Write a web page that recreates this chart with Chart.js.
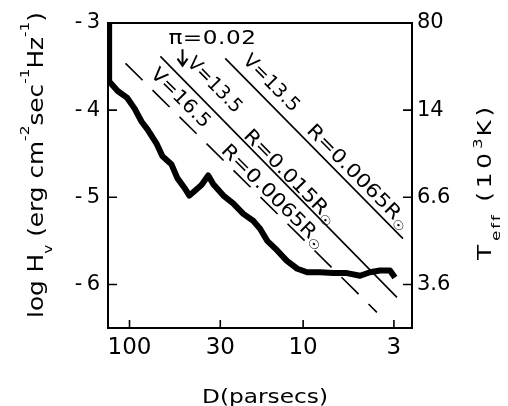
<!DOCTYPE html>
<html><head><meta charset="utf-8">
<script src="https://cdn.jsdelivr.net/npm/chart.js@4"></script>
<style>html,body{margin:0;padding:0;background:#fff}canvas{display:block}</style>
</head><body>
<canvas id="c" width="508" height="406"></canvas>
<script>
// ---- data ----
const distance = [131, 131, 127, 117, 103, 93.6, 85.3, 78.8, 70.0, 64.6, 57.4, 53.0, 48.3, 45.2, 42.3, 38.5, 35.2, 32.9, 28.8, 25.3, 22.1, 19.4, 17.7, 16.1, 14.1, 12.4, 10.8, 9.48, 7.98, 6.72, 5.59, 4.70, 4.12, 3.61, 3.16, 2.96];
const logHv = [-3.0, -3.67, -3.70, -3.78, -3.86, -3.98, -4.13, -4.22, -4.38, -4.53, -4.62, -4.78, -4.89, -4.98, -4.93, -4.86, -4.75, -4.85, -4.98, -5.07, -5.19, -5.27, -5.36, -5.50, -5.61, -5.73, -5.82, -5.86, -5.86, -5.87, -5.87, -5.90, -5.86, -5.84, -5.84, -5.92];
const distTicks = [100, 30, 10, 3];
const logTicks = [-3, -4, -5, -6];
const teffLabels = ['80', '14', '6.6', '3.6'];
// reference lines (endpoints)
const lineA_D = [105.4, 3.76], lineA_H = [-3.463, -6.32];   // V=16.5, R=0.0065 Rsun (dashed)
const lineB_D = [66.4, 2.88],  lineB_H = [-3.383, -6.149];  // V=13.5, R=0.015 Rsun
const lineC_D = [28.1, 2.66],  lineC_H = [-3.406, -5.474];  // V=13.5, R=0.0065 Rsun

const FONT = "'DejaVu Sans', sans-serif";
const refLines = [[lineA_D, lineA_H], [lineB_D, lineB_H], [lineC_D, lineC_H]];
const pts = (D, H) => D.map((d, i) => ({x: d, y: H[i]}));

function runRich(ctx, parts, size, o, ls, draw) {
  let x = 0;
  for (const p of parts) {
    let s = size, dy = 0;
    if (p.k === 'sub') { s = size * o.subSize; dy = size * o.subDy; }
    else if (p.k === 'sup') { s = size * o.supSize; dy = -size * o.supDy; }
    const l = p.k ? ls * 0.5 : ls;
    ctx.font = `${s}px ${FONT}`;
    ctx.letterSpacing = '0px';
    const w = ctx.measureText(p.t).width + l * [...p.t].length;
    if (draw) { ctx.letterSpacing = l + 'px'; ctx.fillText(p.t, x, dy); }
    x += w;
  }
  ctx.letterSpacing = '0px';
  return x;
}
function drawText(ctx, parts, size, o, len, cx, cy, ang, vOff, maxS) {
  ctx.save();
  ctx.translate(cx, cy); ctx.rotate(ang);
  let ls = 0, sx = 1;
  if (len) {
    const w0 = runRich(ctx, parts, size, o, 0, false);
    sx = Math.min(len / w0, maxS || 1.3);
    const w1 = runRich(ctx, parts, size, o, 1, false) - w0;
    ls = (len / sx - w0) / w1;
  }
  const w = runRich(ctx, parts, size, o, ls, false);
  ctx.fillStyle = '#000'; ctx.textAlign = 'left'; ctx.textBaseline = 'alphabetic';
  ctx.scale(sx, 1);
  ctx.translate(-w / 2, vOff);
  runRich(ctx, parts, size, o, ls, true);
  ctx.restore();
}
const lblO = {subSize: 0.65, subDy: 0.22, supSize: 0.65, supDy: 0.5};
const labels = [
  {parts: [{t: 'V=16.5'}], at: [50.9, -3.863], line: 0, len: 76},
  {parts: [{t: 'V=13.5'}], at: [32.4, -3.714], line: 1, len: 70},
  {parts: [{t: 'R=0.015R'}, {t: '\u2609', k: 'sub'}], at: [11.9, -4.766], line: 1, len: 124},
  {parts: [{t: 'R=0.0065R'}, {t: '\u2609', k: 'sub'}], at: [14.9, -4.989], line: 0, len: 138},
  {parts: [{t: 'V=13.5'}], at: [15.3, -3.691], line: 2, len: 72},
  {parts: [{t: 'R=0.0065R'}, {t: '\u2609', k: 'sub'}], at: [4.83, -4.766], line: 2, len: 138},
  {parts: [{t: '\u03C0=0.02'}], at: [33.3, -3.166], line: null, len: 88}
];

const decor = {
  id: 'decor',
  afterDraw(chart) {
    const ctx = chart.ctx, a = chart.chartArea;
    const xs = chart.scales.x, ys = chart.scales.y, y2 = chart.scales.y2;
    ctx.save();
    ctx.strokeStyle = '#000'; ctx.lineWidth = 2;
    ctx.strokeRect(a.left, a.top, a.right - a.left, a.bottom - a.top);
    ctx.lineWidth = 1.6;
    ctx.beginPath();
    distTicks.forEach(v => { const px = xs.getPixelForValue(v); ctx.moveTo(px, a.bottom); ctx.lineTo(px, a.bottom - 8); });
    logTicks.forEach(v => {
      const py = ys.getPixelForValue(v); ctx.moveTo(a.left, py); ctx.lineTo(a.left + 9, py);
      const py2 = y2.getPixelForValue(v); ctx.moveTo(a.right, py2); ctx.lineTo(a.right - 9, py2);
    });
    ctx.stroke();
    // annotations along the reference lines
    labels.forEach(l => {
      let ang = 0, off = 19 * 0.36;
      if (l.line !== null) {
        const [D, H] = refLines[l.line];
        const x1 = xs.getPixelForValue(D[0]), y1 = ys.getPixelForValue(H[0]);
        const x2 = xs.getPixelForValue(D[1]), y2p = ys.getPixelForValue(H[1]);
        ang = Math.atan2(y2p - y1, x2 - x1);
        off -= 1.5;
      }
      drawText(ctx, l.parts, 19, lblO, l.len, xs.getPixelForValue(l.at[0]), ys.getPixelForValue(l.at[1]), ang, off, 1.22);
    });
    // arrow below pi
    const ax = xs.getPixelForValue(49.5), ay1 = ys.getPixelForValue(-3.30), ay2 = ys.getPixelForValue(-3.49);
    ctx.lineWidth = 2;
    ctx.beginPath();
    ctx.moveTo(ax, ay1); ctx.lineTo(ax, ay2);
    ctx.moveTo(ax - 5, ay2 - 7); ctx.lineTo(ax, ay2); ctx.lineTo(ax + 5, ay2 - 7);
    ctx.stroke();
    // axis titles
    drawText(ctx, [{t: 'log H'}, {t: 'v', k: 'sub'}, {t: ' (erg cm'}, {t: '-2', k: 'sup'}, {t: 'sec'}, {t: '-1', k: 'sup'}, {t: 'Hz'}, {t: '-1', k: 'sup'}, {t: ')'}],
      21, {subSize: 0.62, subDy: 0.45, supSize: 0.62, supDy: 0.65}, 306, 43, 165, -Math.PI / 2, 0, 1.2);
    drawText(ctx, [{t: 'T'}, {t: 'eff', k: 'sub'}, {t: ' (10'}, {t: '3', k: 'sup'}, {t: 'K)'}],
      19, {subSize: 0.68, subDy: 0.45, supSize: 0.68, supDy: 0.45}, 157, 491, 181.5, -Math.PI / 2, 0, 1.3);
    drawText(ctx, [{t: 'D(parsecs)'}], 20, lblO, 126, 265, 403, 0, 0, 1.2);
    ctx.restore();
  }
};

const tickFont = {family: FONT, size: 21};
new Chart(document.getElementById('c'), {
  type: 'line',
  data: {
    datasets: [
      {data: pts(distance, logHv), borderColor: '#000', borderWidth: 6, pointRadius: 0, borderJoinStyle: 'round', tension: 0},
      {data: pts(lineA_D, lineA_H), borderColor: '#000', borderWidth: 1.6, pointRadius: 0, borderDash: [24, 14]},
      {data: pts(lineB_D, lineB_H), borderColor: '#000', borderWidth: 1.6, pointRadius: 0},
      {data: pts(lineC_D, lineC_H), borderColor: '#000', borderWidth: 1.6, pointRadius: 0}
    ]
  },
  options: {
    responsive: false, animation: false, devicePixelRatio: 1,
    layout: {padding: {top: 23, left: 0, right: 0, bottom: 0}},
    plugins: {legend: {display: false}, tooltip: {enabled: false}},
    scales: {
      x: {
        type: 'logarithmic', reverse: true, min: 2.36, max: 133,
        afterBuildTicks: s => { s.ticks = distTicks.map(v => ({value: v})); },
        afterFit: s => { s.height = 78; },
        grid: {display: false, drawTicks: false}, border: {display: false},
        ticks: {callback: v => String(v), font: {family: FONT, size: 23}, color: '#000', padding: 6, maxRotation: 0, autoSkip: false}
      },
      y: {
        type: 'linear', position: 'left', min: -6.5, max: -3,
        afterBuildTicks: s => { s.ticks = logTicks.map(v => ({value: v})); },
        afterFit: s => { s.width = 108; },
        grid: {display: false, drawTicks: false}, border: {display: false},
        ticks: {callback: v => '-\u2009' + Math.abs(v), font: tickFont, color: '#000', padding: 8}
      },
      y2: {
        type: 'linear', position: 'right', min: -6.5, max: -3,
        afterBuildTicks: s => { s.ticks = logTicks.map(v => ({value: v})); },
        afterFit: s => { s.width = 96; },
        grid: {display: false, drawTicks: false}, border: {display: false},
        ticks: {callback: v => teffLabels[logTicks.indexOf(v)], font: tickFont, color: '#000', padding: 5}
      }
    }
  },
  plugins: [decor]
});
</script>
</body></html>
